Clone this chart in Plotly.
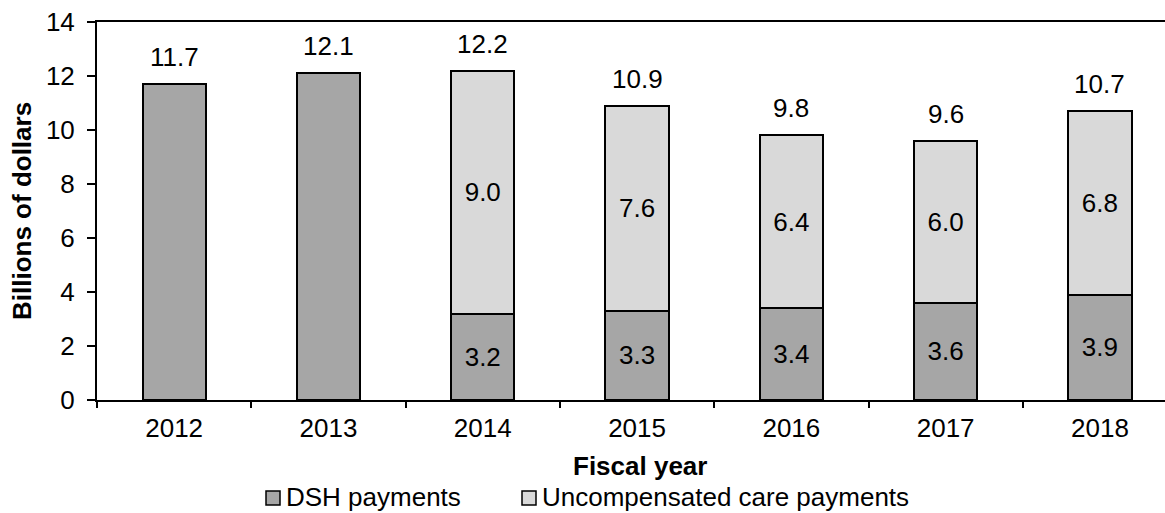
import plotly.graph_objects as go

# Fiscal years and payment amounts (billions of dollars)
years = ["2012", "2013", "2014", "2015", "2016", "2017", "2018"]
dsh_payments = [11.7, 12.1, 3.2, 3.3, 3.4, 3.6, 3.9]
uncompensated_care = [None, None, 9.0, 7.6, 6.4, 6.0, 6.8]
totals = [11.7, 12.1, 12.2, 10.9, 9.8, 9.6, 10.7]
y_ticks = [0, 2, 4, 6, 8, 10, 12, 14]

FONT = "Liberation Sans, Arial, sans-serif"
FS = 26
DSH_COLOR = "#a6a6a6"
UCP_COLOR = "#d9d9d9"

W, H = 1165, 513
ML, MT, MB = 97, 22, 113
PLOT_W = W - ML
PLOT_H = H - MT - MB


def px_x(px):
    return (px - ML) / PLOT_W


def px_y(py):
    return (H - MB - py) / PLOT_H


# Inside labels only where a bar holds both segments
dsh_text = [f"{v:.1f}" if u is not None else "" for v, u in zip(dsh_payments, uncompensated_care)]
ucp_text = [f"{u:.1f}" if u is not None else "" for u in uncompensated_care]

fig = go.Figure()
fig.add_trace(go.Bar(
    x=years, y=dsh_payments, name="DSH payments",
    marker=dict(color=DSH_COLOR, line=dict(color="black", width=2)),
    width=0.41, text=dsh_text, textposition="inside", insidetextanchor="middle",
    textangle=0, textfont=dict(family=FONT, size=FS, color="black"),
    constraintext="none", showlegend=False,
))
fig.add_trace(go.Bar(
    x=years, y=uncompensated_care, name="Uncompensated care payments",
    marker=dict(color=UCP_COLOR, line=dict(color="black", width=2)),
    width=0.41, text=ucp_text, textposition="inside", insidetextanchor="middle",
    textangle=0, textfont=dict(family=FONT, size=FS, color="black"),
    constraintext="none", showlegend=False,
))

# Totals above each bar (category index positions on the x axis)
for i, tot in enumerate(totals):
    fig.add_annotation(x=i, y=tot, xref="x", yref="y", text=f"{tot:.1f}", showarrow=False,
                       yanchor="middle", yshift=27,
                       font=dict(family=FONT, size=FS, color="black"))

# Axis titles
fig.add_annotation(xref="paper", yref="paper", x=px_x(22), y=0.5,
                   text="<b>Billions of dollars</b>", textangle=-90, showarrow=False,
                   xanchor="center", yanchor="middle",
                   font=dict(family=FONT, size=FS, color="black"))
fig.add_annotation(xref="paper", yref="paper", x=px_x(640), y=px_y(466),
                   text="<b>Fiscal year</b>", showarrow=False,
                   xanchor="center", yanchor="middle",
                   font=dict(family=FONT, size=FS, color="black"))

# Legend: swatches with labels
legend_items = [("DSH payments", DSH_COLOR, 266), ("Uncompensated care payments", UCP_COLOR, 522)]
for label, color, x0 in legend_items:
    fig.add_shape(type="rect", xref="paper", yref="paper",
                  x0=px_x(x0), x1=px_x(x0 + 14), y0=px_y(505), y1=px_y(491),
                  fillcolor=color, line=dict(color="black", width=1.5))
    fig.add_annotation(xref="paper", yref="paper", x=px_x(x0 + 19), y=px_y(497),
                       text=label, showarrow=False, xanchor="left", yanchor="middle",
                       borderpad=0,
                       font=dict(family=FONT, size=FS, color="black"))

fig.update_layout(
    barmode="stack",
    width=W, height=H,
    margin=dict(l=ML, r=0, t=MT, b=MB, pad=0),
    paper_bgcolor="white", plot_bgcolor="white",
    font=dict(family=FONT, size=FS, color="black"),
)
fig.update_xaxes(
    type="category", range=[-0.5, -0.5 + PLOT_W / 154.3],
    showline=True, linecolor="black", linewidth=2, mirror=True,
    ticks="outside", tickson="boundaries", ticklen=6, tickwidth=1.5, tickcolor="black",
    ticklabelstandoff=4,
    showgrid=False, tickfont=dict(family=FONT, size=FS, color="black"),
)
fig.update_yaxes(
    range=[0, 14], tickvals=y_ticks,
    showline=True, linecolor="black", linewidth=2,
    ticks="outside", ticklen=8, tickwidth=1.5, tickcolor="black",
    ticklabelstandoff=7,
    showgrid=False, zeroline=False,
    tickfont=dict(family=FONT, size=FS, color="black"),
)

fig.write_html("out.html")
